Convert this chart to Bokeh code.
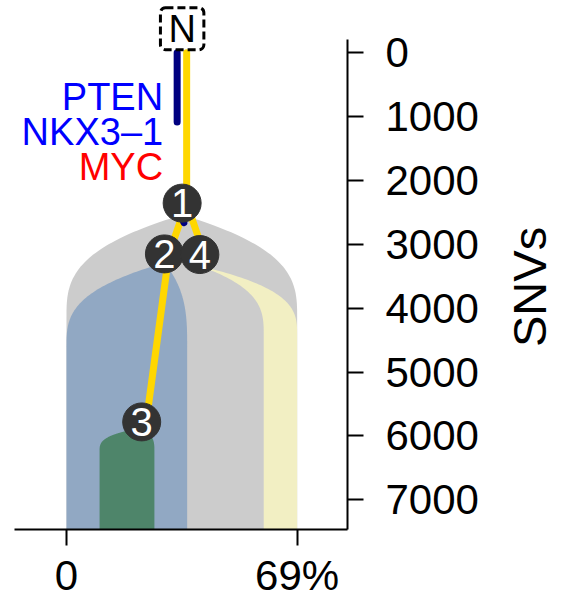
import math
from bokeh.plotting import figure
from bokeh.layouts import row
from bokeh.models import Range1d, FixedTicker
from bokeh.core.properties import value
from bokeh.embed import file_html
from bokeh.resources import INLINE

# ---------------- data ----------------
clone_ids = ["1", "2", "3", "4"]
clone_parents = ["N", "1", "2", "1"]
node_x = [34.6, 29.3, 22.5, 39.9]          # horizontal node position (% CCF scale)
node_snvs = [2355, 3150, 5780, 3160]       # cumulative SNVs at each node
ccf_left = [0.0, 0.0, 9.9, 59.0]           # clone extent at the bottom (%)
ccf_right = [69.0, 36.1, 26.3, 69.0]
shape_top = [2540, 3290, 5870, 3340]       # SNVs where the clone shape starts
shape_full = [4150, 4600, 6230, 4420]      # SNVs where it reaches its full width
clone_colors = ["#cccccc", "#91a8c3", "#4e856a", "#f2efc3"]
navy_fraction = [0.46, 0.0, 0.0, 0.38]     # share of each incoming branch in navy

root_label = "N"
root_x = 34.6
root_snvs = 0

driver_genes = ["PTEN", "NKX3\u20131", "MYC"]
driver_snvs = [700, 1245, 1790]
driver_colors = ["#0000ff", "#0000ff", "#ff0000"]

snv_ticks = [0, 1000, 2000, 3000, 4000, 5000, 6000, 7000]
ccf_ticks = [0, 69]
ccf_tick_labels = {0: "0", 69: "69%"}
axis_title = "SNVs"

# ---------------- layout ----------------
W, H = 500, 601                           # main figure
W2 = 69                                   # strip holding the rotated axis title
FL, FR, FT, FB = 14, 347, 0, 530          # frame edges on the canvas
X0, X1 = -15.55, 84.06
Y_TOP, Y_BOT = -817, 7464
px_x = (X1 - X0) / (FR - FL)              # data units per pixel (x)

p = figure(width=W, height=H, output_backend="svg", toolbar_location=None,
           x_range=Range1d(X0, X1), y_range=Range1d(Y_BOT, Y_TOP),
           x_axis_location="below", y_axis_location="right",
           min_border_left=FL, min_border_right=W - FR,
           min_border_top=FT, min_border_bottom=H - FB)
p.outline_line_color = None
p.grid.visible = False
p.background_fill_color = "white"
p.border_fill_color = "white"

FONT = "Liberation Sans"

# x axis
xa = p.xaxis[0]
xa.ticker = FixedTicker(ticks=ccf_ticks)
xa.major_label_overrides = ccf_tick_labels
xa.minor_tick_line_color = None
xa.major_tick_in = 0
xa.major_tick_out = 16
xa.major_tick_line_width = 2
xa.axis_line_width = 2
xa.major_label_standoff = 6
xa.major_label_text_font = FONT
xa.major_label_text_font_size = "42px"
xa.major_label_text_color = "black"

# y axis
ya = p.yaxis[0]
ya.ticker = FixedTicker(ticks=snv_ticks)
ya.bounds = (-208, Y_BOT)
ya.minor_tick_line_color = None
ya.major_tick_in = 0
ya.major_tick_out = 16
ya.major_tick_line_width = 2
ya.axis_line_width = 2
ya.major_label_standoff = 22
ya.major_label_text_font = FONT
ya.major_label_text_font_size = "42px"
ya.major_label_text_color = "black"

# ---------------- clone shapes ----------------
def spread(t):
    return 1 - (1 - t) ** 3

pos = {cid: (x, y) for cid, x, y in zip(clone_ids, node_x, node_snvs)}
pos[root_label] = (root_x, root_snvs)

order = ["1", "2", "4", "3"]
xs_all, ys_all, cols = [], [], []
for cid in order:
    i = clone_ids.index(cid)
    ax_ = node_x[i]
    a, b = ccf_left[i], ccf_right[i]
    y0, y1 = shape_top[i], shape_full[i]
    n = 60
    ts = [k / n for k in range(n + 1)]
    lx = [ax_ + (a - ax_) * spread(t) for t in ts]
    rx = [ax_ + (b - ax_) * spread(t) for t in ts]
    yy = [y0 + (y1 - y0) * t for t in ts]
    xs = lx + [a, b] + rx[::-1]
    ys = yy + [Y_BOT, Y_BOT] + yy[::-1]
    xs_all.append(xs)
    ys_all.append(ys)
    cols.append(clone_colors[i])
p.patches(xs_all, ys_all, fill_color=cols, line_color=None)

# ---------------- branches ----------------
OFF_Y = 4.5 * px_x
OFF_N = -5.0 * px_x
yx0, yy0, yx1, yy1 = [], [], [], []
nx0, ny0, nx1, ny1 = [], [], [], []
for cid, par, frac in zip(clone_ids, clone_parents, navy_fraction):
    (px0, py0), (px1, py1) = pos[par], pos[cid]
    yx0.append(px0 + OFF_Y); yy0.append(py0); yx1.append(px1 + OFF_Y); yy1.append(py1)
    if frac > 0:
        nx0.append(px0 + OFF_N); ny0.append(py0)
        nx1.append(px0 + OFF_N + frac * (px1 - px0)); ny1.append(py0 + frac * (py1 - py0))
p.segment(yx0, yy0, yx1, yy1, line_color="#ffd700", line_width=7, line_cap="round")
p.segment(nx0, ny0, nx1, ny1, line_color="#000080", line_width=7, line_cap="round")

# ---------------- nodes ----------------
p.scatter(node_x, node_snvs, size=38, marker="circle", fill_color="#333333",
          line_color="#333333")
p.text(node_x, node_snvs, text=clone_ids, text_color="white",
       text_font=value(FONT), text_font_size="40px",
       text_align="center", text_baseline="middle")

# root node with dashed box
p.text([root_x], [root_snvs], text=[root_label], text_color="black",
       text_font=value(FONT), text_font_size="38px",
       text_align="center", text_baseline="bottom", y_offset=-3,
       border_line_color="black", border_line_width=3, border_line_dash="8 4",
       border_radius=5, padding=(8, 0))

# driver gene labels along the trunk
p.text([root_x] * len(driver_genes), driver_snvs, text=driver_genes,
       text_color=driver_colors, text_font=value(FONT), text_font_size="38px",
       text_align="right", text_baseline="alphabetic", x_offset=-19)

# ---------------- axis title strip (shares the SNV scale) ----------------
p2 = figure(width=W2, height=H, output_backend="svg", toolbar_location=None,
            x_range=Range1d(0, 1), y_range=p.y_range,
            x_axis_location=None, y_axis_location=None,
            min_border_left=0, min_border_right=0,
            min_border_top=FT, min_border_bottom=H - FB)
p2.outline_line_color = None
p2.grid.visible = False
p2.background_fill_color = "white"
p2.border_fill_color = "white"
p2.text([0.42], [3667], text=[axis_title], angle=90, angle_units="deg",
        text_color="black", text_font=value(FONT), text_font_size="47px",
        text_align="center", text_baseline="middle")

layout = row(p, p2, spacing=0)
open("out.html", "w").write(file_html(layout, INLINE))
